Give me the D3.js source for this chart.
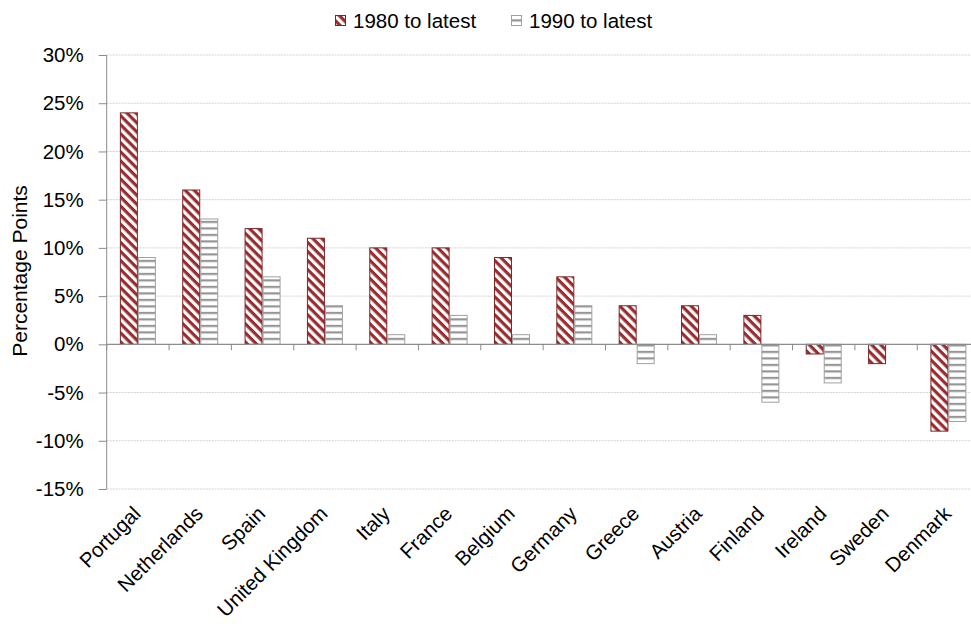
<!DOCTYPE html>
<html><head><meta charset="utf-8">
<script src="https://cdn.jsdelivr.net/npm/d3@7"></script>
<style>
html,body{margin:0;padding:0;background:#fff;}
text{font-family:"Liberation Sans",Arial,sans-serif;fill:#000;}
</style></head>
<body>
<svg id="chart" width="971" height="628"></svg>
<script>
const categories = ["Portugal","Netherlands","Spain","United Kingdom","Italy","France","Belgium","Germany","Greece","Austria","Finland","Ireland","Sweden","Denmark"];
const seriesNames = ["1980 to latest","1990 to latest"];
const values1980 = [24,16,12,11,10,10,9,7,4,4,3,-1,-2,-9];
const values1990 = [9,13,7,4,1,3,1,4,-2,1,-6,-4,0,-8];
const yTicks = [30,25,20,15,10,5,0,-5,-10,-15];

const svg = d3.select("#chart");
const W = 971;
const plotLeft = 106.7, bandStep = 62.35;
const x = d3.scaleBand().domain(categories).range([plotLeft, plotLeft + bandStep*categories.length]).padding(0);
const y = d3.scaleLinear().domain([-15,30]).range([489,55]);
const x1 = d3.scaleBand().domain(seriesNames).range([0, x.bandwidth()]).paddingInner(0).paddingOuter(0.732);

const defs = svg.append("defs");
const pr = defs.append("pattern").attr("id","redHatch").attr("patternUnits","userSpaceOnUse")
  .attr("width",6.4).attr("height",6.4).attr("patternTransform","rotate(45)");
pr.append("rect").attr("width",6.4).attr("height",6.4).attr("fill","#fff");
pr.append("rect").attr("width",6.4).attr("height",3.2).attr("fill","#992c2e");
const pg = defs.append("pattern").attr("id","grayHatch").attr("patternUnits","userSpaceOnUse")
  .attr("width",6.5).attr("height",6.5).attr("patternTransform",`translate(0,${y(0)})`);
pg.append("rect").attr("width",6.5).attr("height",6.5).attr("fill","#fff");
pg.append("rect").attr("y",0).attr("width",6.5).attr("height",2).attr("fill","#959595");
pg.append("rect").attr("y",2).attr("width",6.5).attr("height",0.8).attr("fill","#d4d4d4");

// gridlines
svg.append("g").selectAll("line").data(yTicks.filter(d=>d!==0)).join("line")
  .attr("x1",plotLeft).attr("x2",W).attr("y1",d=>y(d)).attr("y2",d=>y(d))
  .attr("stroke","#d2d2d2").attr("stroke-width",1).attr("stroke-dasharray","2,1");

// y axis
const yAxis = d3.axisLeft(y).tickValues(yTicks).tickFormat(d=>d+"%").tickSize(8).tickPadding(15);
const gy = svg.append("g").attr("transform",`translate(${plotLeft},0)`).call(yAxis);
gy.select(".domain").attr("stroke","#8c8c8c").attr("d",`M0,${y(30)}V${y(-15)}`);
gy.selectAll(".tick line").attr("stroke","#8c8c8c");
gy.selectAll(".tick text").style("font-size","20.5px").attr("fill","#000").style("font-family","'Liberation Sans',Arial,sans-serif");

// bars
const data = categories.map((c,i)=>({cat:c, vals:[values1980[i], values1990[i]]}));
const fills = ["url(#redHatch)","url(#grayHatch)"];
const strokes = ["#7e2426","#a0a0a0"];
const groups = svg.append("g").selectAll("g").data(data).join("g")
  .attr("transform",d=>`translate(${x(d.cat)},0)`);
groups.selectAll("rect").data(d=>d.vals.map((v,k)=>({v,k})).filter(e=>e.v!==0)).join("rect")
  .attr("x",e=>x1(seriesNames[e.k])+0.5)
  .attr("width",x1.bandwidth()-1)
  .attr("y",e=>Math.min(y(e.v),y(0)))
  .attr("height",e=>Math.abs(y(e.v)-y(0)))
  .attr("fill",e=>fills[e.k]).attr("stroke",e=>strokes[e.k]).attr("stroke-width",1);

// zero line
svg.append("line").attr("x1",plotLeft).attr("x2",W).attr("y1",y(0)).attr("y2",y(0))
  .attr("stroke","#8c8c8c").attr("stroke-width",1.2);
// category ticks
const bounds = categories.map(c=>x(c)).concat([x(categories[categories.length-1])+x.bandwidth()]);
svg.append("g").selectAll("line").data(bounds).join("line")
  .attr("x1",d=>d).attr("x2",d=>d).attr("y1",y(0)).attr("y2",y(0)+6)
  .attr("stroke","#8c8c8c");

// category labels
svg.append("g").selectAll("text").data(categories).join("text")
  .attr("transform",d=>`translate(${x(d)+x.bandwidth()/2+4},515) rotate(-45)`)
  .attr("text-anchor","end").style("font-size","20.5px").text(d=>d);

// y title
svg.append("text").attr("transform",`translate(27,271) rotate(-90)`)
  .attr("text-anchor","middle").style("font-size","21px").text("Percentage Points");

// legend
const legendX = [335, 511];
const lg = svg.append("g").selectAll("g").data(seriesNames).join("g")
  .attr("transform",(d,i)=>`translate(${legendX[i]},0)`);
lg.append("rect").attr("x",0.5).attr("y",15.5).attr("width",10).attr("height",10)
  .attr("fill",(d,i)=>fills[i]).attr("stroke",(d,i)=>strokes[i]);
lg.append("text").attr("x",18).attr("y",27.7).style("font-size","20.5px").text(d=>d);
</script>
</body></html>
